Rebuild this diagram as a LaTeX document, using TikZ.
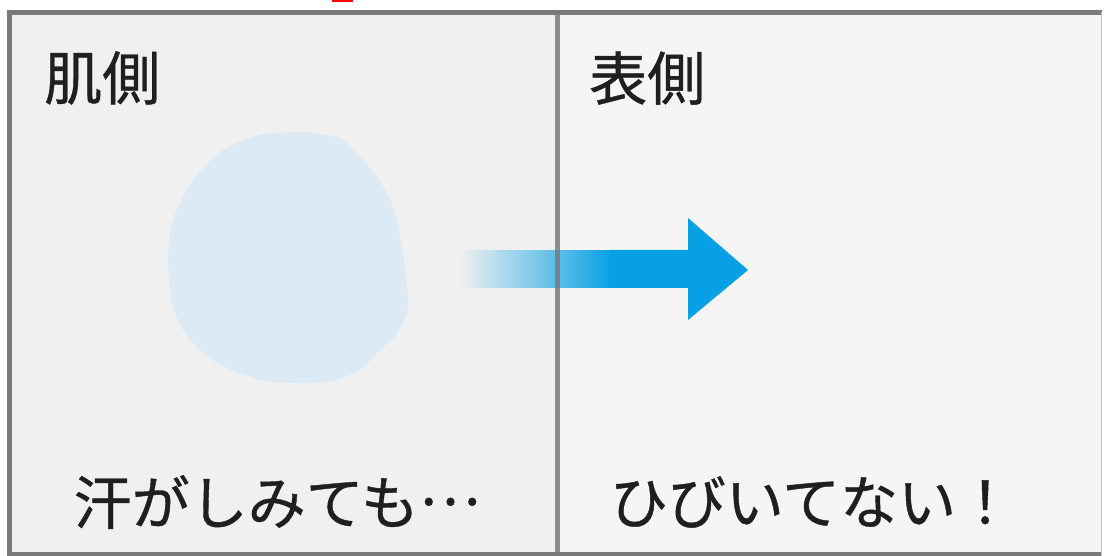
\documentclass[tikz,border=0pt]{standalone}
\usepackage{fontspec}
\newfontfamily\jpfont[FakeBold=0.7]{Noto Sans CJK JP}
\usetikzlibrary{fadings}
\definecolor{framegray}{RGB}{122,122,122}
\definecolor{leftpaper}{RGB}{240,240,240}
\definecolor{rightpaper}{RGB}{245,245,245}
\definecolor{sweatblue}{RGB}{220,234,246}
\definecolor{arrowblue}{RGB}{8,160,228}
\tikzfading[name=shaftfade, left color=transparent!100, right color=transparent!0]
\tikzset{
  label/.style={font=\jpfont\fontsize{58pt}{58pt}\selectfont, text=black!88, inner sep=0pt}
}
\begin{document}
\begin{tikzpicture}[x=1pt, y=-1pt]
    \useasboundingbox (0, 0) rectangle (1104, 556);
    % paper
    \fill [leftpaper]  (9, 12) rectangle (557, 556);
    \fill [rightpaper] (557, 12) rectangle (1101, 556);
    \fill [red]        (332, 0) rectangle (353, 2.5);
    % sweat spot
    \fill [sweatblue] plot [smooth cycle] coordinates {
      (260, 135) (300, 132) (337, 137) (352, 148) (377, 177) (393, 207)
      (403, 253) (408, 307) (397, 333) (377, 353) (363, 367) (337, 380)
      (300, 383) (260, 380) (217, 363) (190, 340) (173, 307) (168, 260)
      (173, 220) (193, 180) (223, 150)};
    % arrow
    \coordinate (shaftstart) at (460, 250);
    \coordinate (shaftmid)   at (612, 288);
    \fill [arrowblue, path fading=shaftfade] (shaftstart) rectangle (shaftmid);
    \fill [arrowblue] (611, 250) -- (688, 250) -- (688, 218) -- (748, 270)
                      -- (688, 320) -- (688, 288) -- (611, 288) -- cycle;
    % frame
    \draw [framegray, line width=5pt] (1102, 12.5) -- (9.5, 12.5) -- (9.5, 554) -- (1102, 554);
    \draw [framegray, line width=5pt, opacity=0.85] (557, 12) -- (557, 556);
    \draw [black!25, line width=1pt] (1101.5, 12) -- (1101.5, 556);
    % labels
    \node [label, anchor=west] (skin)    at (44, 78)   {肌側};
    \node [label, anchor=west] (outside) at (589, 78)  {表側};
    \node [label] (sweat)   at (277, 502) {汗がしみても\raisebox{0.33em}{…}};
    \node [label] (nomark)  at (812, 502) {ひびいてない！};
\end{tikzpicture}
\end{document}
